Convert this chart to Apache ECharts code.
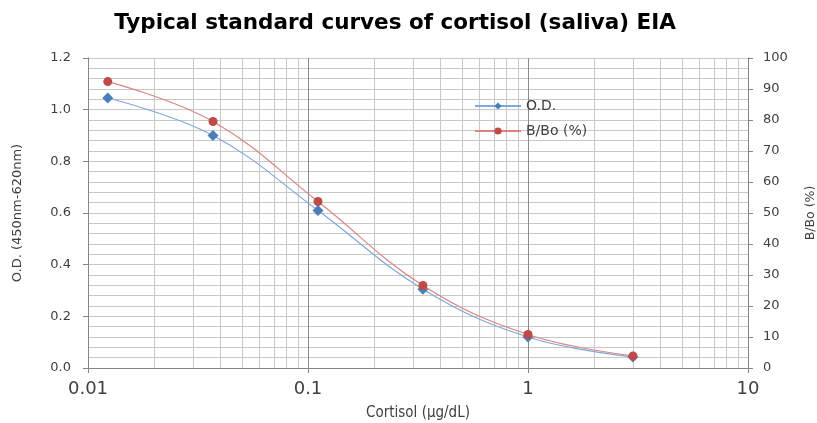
<!DOCTYPE html>
<html>
<head>
<meta charset="utf-8">
<script src="https://cdn.jsdelivr.net/npm/echarts@6/dist/echarts.min.js"></script>
<style>html,body{margin:0;padding:0;background:#fff;}#c{width:817px;height:423px;}</style>
</head>
<body>
<div id="c"></div>
<script>
var cortisol = [0.0123, 0.037, 0.111, 0.333, 1, 3];
var odValues = [1.045, 0.90, 0.61, 0.305, 0.12, 0.043];
var bboValues = [92.4, 79.5, 53.7, 26.6, 10.8, 3.9];
var minorXLines = [0.02,0.03,0.04,0.05,0.06,0.07,0.08,0.09,0.2,0.3,0.4,0.5,0.6,0.7,0.8,0.9,2,3,4,5,6,7,8,9];

var chart = echarts.init(document.getElementById('c'));
var FONT = 'DejaVu Sans';
chart.setOption({
  animation: false,
  backgroundColor: '#fff',
  title: {
    text: 'Typical standard curves of cortisol (saliva) EIA',
    left: 390, top: 7, textAlign: 'center',
    textStyle: {fontFamily: FONT, fontWeight: 'bold', fontSize: 21.5, color: '#000'}
  },
  legend: {
    orient: 'vertical', left: 469, top: 94, itemWidth: 46, itemHeight: 9, itemGap: 11,
    textStyle: {fontFamily: FONT, fontSize: 14, color: '#404040'},
    data: ['O.D.', 'B/Bo (%)']
  },
  grid: {left: 88, right: 69, top: 58, bottom: 55, containLabel: false, outerBoundsMode: 'none'},
  xAxis: {
    type: 'log', logBase: 10, min: 0.01, max: 10,
    name: 'Cortisol (µg/dL)', nameLocation: 'middle', nameGap: 38,
    nameTextStyle: {fontFamily: 'DejaVu Sans Condensed', fontSize: 15, color: '#404040'},
    axisLine: {show: true, lineStyle: {color: '#868686'}},
    axisTick: {show: true, length: 5, lineStyle: {color: '#868686'}},
    axisLabel: {fontFamily: FONT, fontSize: 18, color: '#404040', margin: 12,
      formatter: function (v) { return String(+v.toPrecision(3)); }},
    splitLine: {show: true, lineStyle: {color: '#8c8c8c', width: 1}}
  },
  yAxis: [{
    type: 'value', min: 0, max: 1.2, interval: 0.2, position: 'left',
    name: 'O.D. (450nm-620nm)', nameLocation: 'middle', nameGap: 64, nameRotate: 90,
    nameTextStyle: {fontFamily: FONT, fontSize: 13, color: '#404040'},
    axisLine: {show: true, lineStyle: {color: '#868686'}},
    axisTick: {show: true, length: 5, lineStyle: {color: '#868686'}},
    axisLabel: {fontFamily: FONT, fontSize: 13, color: '#404040', margin: 17,
      formatter: function (v) { return v.toFixed(1); }},
    splitLine: {show: true, lineStyle: {color: '#c8c8c8'}},
    minorTick: {show: false, splitNumber: 5},
    minorSplitLine: {show: true, lineStyle: {color: '#c8c8c8'}}
  }, {
    type: 'value', min: 0, max: 100, interval: 10, position: 'right',
    name: 'B/Bo (%)', nameLocation: 'middle', nameGap: 56, nameRotate: 90,
    nameTextStyle: {fontFamily: FONT, fontSize: 12.5, color: '#404040'},
    axisLine: {show: true, lineStyle: {color: '#868686'}},
    axisTick: {show: true, length: 5, lineStyle: {color: '#868686'}},
    axisLabel: {fontFamily: FONT, fontSize: 13, color: '#404040', margin: 15},
    splitLine: {show: false}
  }],
  series: [{
    name: 'O.D.', type: 'line', yAxisIndex: 0, smooth: 0.4,
    data: cortisol.map(function (x, i) { return [x, odValues[i]]; }),
    symbol: 'diamond', symbolSize: 11,
    itemStyle: {color: '#4a7ebb'},
    lineStyle: {color: '#7fa8dc', width: 1.2},
    z: 3,
    markLine: {
      silent: true, symbol: 'none', z: 1, label: {show: false},
      lineStyle: {color: '#c8c8c8', type: 'solid', width: 1},
      data: minorXLines.map(function (v) { return {xAxis: v}; })
    }
  }, {
    name: 'B/Bo (%)', type: 'line', yAxisIndex: 1, smooth: 0.4,
    data: cortisol.map(function (x, i) { return [x, bboValues[i]]; }),
    symbol: 'circle', symbolSize: 9,
    itemStyle: {color: '#be4b48'},
    lineStyle: {color: '#da8480', width: 1.2},
    z: 4
  }]
});
</script>
</body>
</html>
